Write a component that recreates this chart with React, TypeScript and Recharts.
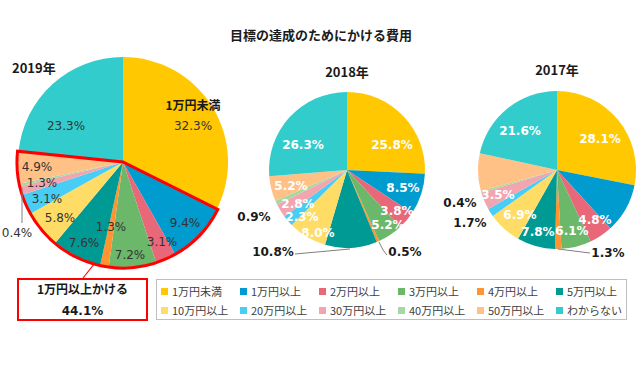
import React from 'react';
import { PieChart, Pie, Cell } from 'recharts';

const categories = ['1万円未満', '1万円以上', '2万円以上', '3万円以上', '4万円以上', '5万円以上', '10万円以上', '20万円以上', '30万円以上', '40万円以上', '50万円以上', 'わからない'];
const values2019 = [32.3, 9.4, 3.1, 7.2, 1.3, 7.6, 5.8, 3.1, 1.3, 0.4, 4.9, 23.3];
const values2018 = [25.8, 8.5, 3.8, 5.2, 0.5, 10.8, 8.0, 2.3, 2.8, 0.9, 5.2, 26.3];
const values2017 = [28.1, 10.1, 4.8, 6.1, 1.3, 7.8, 6.9, 1.7, 3.5, 0.4, 7.7, 21.6];
const hidden2017 = [1, 10];
const years = ['2019年', '2018年', '2017年'];
const titleText = '目標の達成のためにかける費用';
const calloutText = '1万円以上かける';
const topLabel2019 = '1万円未満';

const COLORS = ['#FFC800', '#009CCF', '#E8687A', '#6BB86B', '#FF9430', '#009A95', '#FFDC66', '#48CEF5', '#F3A5AF', '#A6D9A2', '#FFC186', '#33CCCC'];

const NUM_FONT = "'DejaVu Sans', 'Noto Sans CJK JP', sans-serif";
const JP_FONT = "'Noto Sans CJK JP', 'DejaVu Sans', sans-serif";

const P19 = { cx: 123, cy: 162, r: 105 };
const P18 = { cx: 347, cy: 170, r: 78 };
const P17 = { cx: 557, cy: 170, r: 79 };

// label offsets relative to pie centre
const off19: [number, number][] = [[70, -36], [62, 61], [39, 80], [7, 93], [-12, 65], [-39, 81], [-63, 56], [-76, 37], [-81, 21], [-106, 71], [-86, 5], [-57, -36]];
const off18: [number, number][] = [[45, -25], [56, 18], [50, 41], [41, 55], [58, 82], [-74, 82], [-29, 63], [-45, 47], [-49, 34], [-93, 47], [-56, 16], [-44, -25]];
const off17: [number, number][] = [[43, -31], [0, 0], [38, 50], [15, 61], [51, 83], [-19, 62], [-37, 45], [-87, 53], [-59, 25], [-97, 33], [0, 0], [-37, -39]];
const outside18 = [4, 5, 9];
const outside17 = [4, 7, 9];
const leaders18: Record<number, [number, number][]> = { 4: [[32, 72], [36, 80], [40, 85]], 5: [[-52, 84], [3, 79]] };
const leaders17: Record<number, [number, number][]> = { 4: [[1, 79], [33, 83]] };
const leaders19: Record<number, [number, number][]> = { 9: [[-101, 26], [-101, 61]] };

const fmt = (v: number) => v.toFixed(1) + '%';

const toData = (vals: number[]) => vals.map((v, i) => ({ name: categories[i], value: v }));

function makeLabel(
  p: { cx: number; cy: number },
  vals: number[],
  offs: [number, number][],
  mode: '2019' | 'other',
  outside: number[],
  leaders: Record<number, [number, number][]>,
  hidden: number[] = []
) {
  return (props: any) => {
    const i = props.index;
    if (hidden.includes(i)) return null;
    const [dx, dy] = offs[i];
    const x = p.cx + dx;
    const y = p.cy + dy;
    const isOut = outside.includes(i);
    const fill = mode === '2019' ? '#333333' : isOut ? '#1A1A1A' : '#FFFFFF';
    const weight = mode === '2019' ? 'normal' : 'bold';
    const lead = leaders[i];
    return (
      <g key={'lbl' + i}>
        {lead && (
          <polyline
            points={lead.map(([a, b]) => `${p.cx + a},${p.cy + b}`).join(' ')}
            fill="none"
            stroke="#7F7F7F"
            strokeWidth={1}
          />
        )}
        {mode === '2019' && i === 0 && (
          <text x={x} y={y - 22} textAnchor="middle" dominantBaseline="central" fontFamily={JP_FONT} fontWeight="bold" fontSize={12} fill="#1A1A1A">
            {topLabel2019}
          </text>
        )}
        <text x={x} y={y} textAnchor="middle" dominantBaseline="central" fontFamily={NUM_FONT} fontWeight={weight} fontSize={12} fill={fill}>
          {fmt(vals[i])}
        </text>
      </g>
    );
  };
}

const over2019 = values2019.slice(1, 11).reduce((a, b) => a + b, 0);
const highlightData = [
  { name: 'under', value: values2019[0] },
  { name: 'over', value: over2019 },
  { name: 'unknown', value: values2019[11] },
];

const highlightLabel = (props: any) => {
  if (props.index !== 1) return null;
  return (
    <line key="hl" x1={P19.cx - 40} y1={P19.cy + 116} x2={P19.cx - 28} y2={P19.cy + 101} stroke="#FF0000" strokeWidth={1.2} />
  );
};

export default function App() {
  const legendRows = [categories.slice(0, 6), categories.slice(6, 12)];
  return (
    <div style={{ position: 'absolute', left: 0, top: 0, width: 640, height: 370, background: '#FFFFFF', overflow: 'hidden' }}>
      <PieChart width={640} height={370} margin={{ top: 0, right: 0, bottom: 0, left: 0 }}>
        <Pie
          data={toData(values2019)}
          dataKey="value"
          cx={P19.cx}
          cy={P19.cy}
          outerRadius={P19.r}
          startAngle={90}
          endAngle={-270}
          stroke="none"
          isAnimationActive={false}
          labelLine={false}
          label={makeLabel(P19, values2019, off19, '2019', [], leaders19)}
        >
          {values2019.map((_, i) => (
            <Cell key={i} fill={COLORS[i]} stroke="none" />
          ))}
        </Pie>
        <Pie
          data={highlightData}
          dataKey="value"
          cx={P19.cx}
          cy={P19.cy}
          outerRadius={P19.r + 1}
          startAngle={90}
          endAngle={-270}
          isAnimationActive={false}
          labelLine={false}
          label={highlightLabel}
        >
          {highlightData.map((_, i) => (
            <Cell key={i} fill="none" stroke={i === 1 ? '#FF0000' : 'none'} strokeWidth={i === 1 ? 3 : 0} />
          ))}
        </Pie>
        <Pie
          data={toData(values2018)}
          dataKey="value"
          cx={P18.cx}
          cy={P18.cy}
          outerRadius={P18.r}
          startAngle={90}
          endAngle={-270}
          stroke="none"
          isAnimationActive={false}
          labelLine={false}
          label={makeLabel(P18, values2018, off18, 'other', outside18, leaders18)}
        >
          {values2018.map((_, i) => (
            <Cell key={i} fill={COLORS[i]} stroke="none" />
          ))}
        </Pie>
        <Pie
          data={toData(values2017)}
          dataKey="value"
          cx={P17.cx}
          cy={P17.cy}
          outerRadius={P17.r}
          startAngle={90}
          endAngle={-270}
          stroke="none"
          isAnimationActive={false}
          labelLine={false}
          label={makeLabel(P17, values2017, off17, 'other', outside17, leaders17, hidden2017)}
        >
          {values2017.map((_, i) => (
            <Cell key={i} fill={COLORS[i]} stroke="none" />
          ))}
        </Pie>
      </PieChart>

      <div style={{ position: 'absolute', left: 0, top: 25, width: 642, textAlign: 'center', fontFamily: JP_FONT, fontWeight: 'bold', fontSize: 13, lineHeight: '20px', color: '#1A1A1A' }}>
        {titleText}
      </div>
      <div style={{ position: 'absolute', left: 12, top: 59, fontFamily: JP_FONT, fontWeight: 'bold', fontSize: 13, lineHeight: '18px', color: '#1A1A1A' }}>
        {years[0]}
      </div>
      <div style={{ position: 'absolute', left: P18.cx - 40, width: 80, top: 63, textAlign: 'center', fontFamily: JP_FONT, fontWeight: 'bold', fontSize: 13, lineHeight: '18px', color: '#1A1A1A' }}>
        {years[1]}
      </div>
      <div style={{ position: 'absolute', left: P17.cx - 40, width: 80, top: 61, textAlign: 'center', fontFamily: JP_FONT, fontWeight: 'bold', fontSize: 13, lineHeight: '18px', color: '#1A1A1A' }}>
        {years[2]}
      </div>

      <div style={{ position: 'absolute', left: 17, top: 278, width: 131, height: 43, boxSizing: 'border-box', border: '2px solid #FF0000', background: '#FFFFFF', color: '#1A1A1A', textAlign: 'center' }}>
        <div style={{ position: 'absolute', left: 0, right: 0, top: 0, fontFamily: JP_FONT, fontWeight: 'bold', fontSize: 12, lineHeight: '18px' }}>{calloutText}</div>
        <div style={{ position: 'absolute', left: 0, right: 0, top: 22, fontFamily: NUM_FONT, fontWeight: 'bold', fontSize: 12, lineHeight: '18px' }}>{fmt(over2019)}</div>
      </div>

      <div style={{ position: 'absolute', left: 156, top: 279, width: 471, height: 41, boxSizing: 'border-box', border: '1px solid #BFBFBF', background: '#FFFFFF' }}>
        {legendRows.map((row, r) => (
          <div key={r} style={{ position: 'absolute', left: 0, top: r === 0 ? 2 : 21, height: 18 }}>
            {row.map((name, c) => {
              const idx = r * 6 + c;
              return (
                <div key={name} style={{ position: 'absolute', left: 4 + c * 79, top: 0, width: 80, height: 18, display: 'flex', alignItems: 'center', whiteSpace: 'nowrap' }}>
                  <span style={{ display: 'inline-block', width: 7, height: 7, background: COLORS[idx], marginRight: 4 }} />
                  <span style={{ fontFamily: JP_FONT, fontSize: 11, color: '#404040', lineHeight: '18px' }}>{name}</span>
                </div>
              );
            })}
          </div>
        ))}
      </div>
    </div>
  );
}
